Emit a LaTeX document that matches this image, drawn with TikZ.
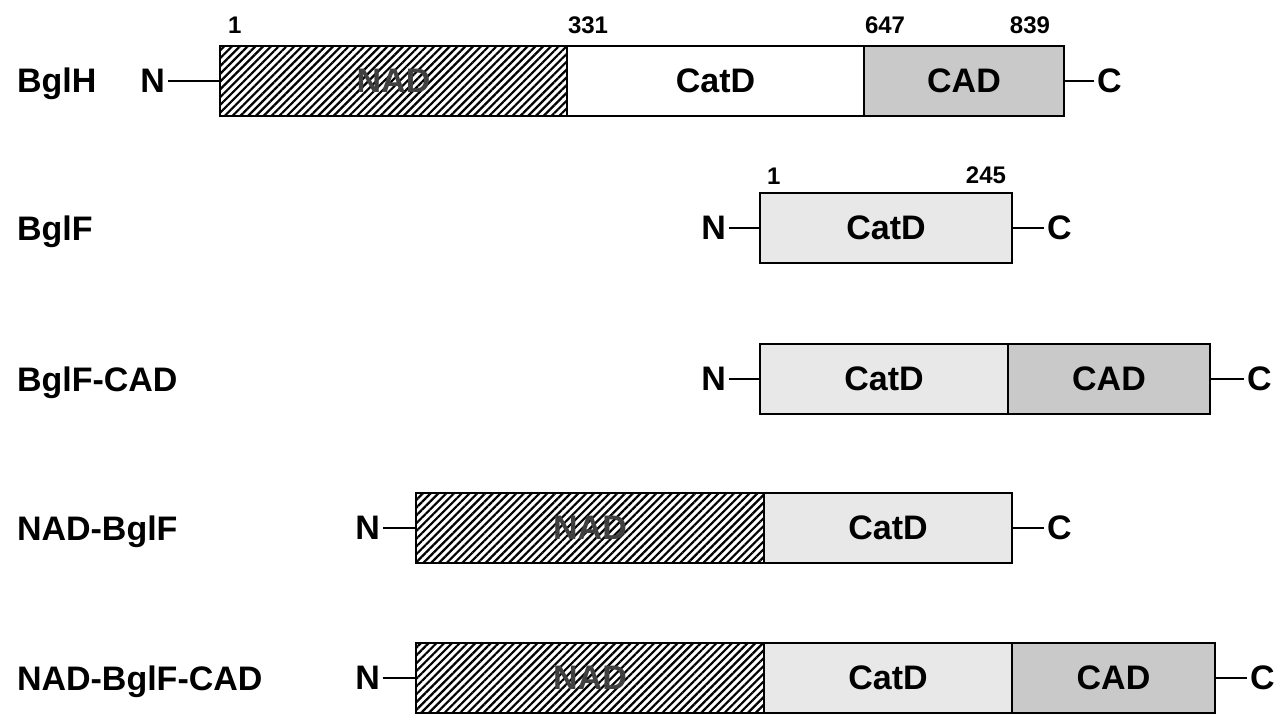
\documentclass[tikz,border=0pt]{standalone}
\usepackage{fontspec}
\setmainfont{Liberation Sans}
\usetikzlibrary{positioning,patterns.meta}

\begin{document}
\begin{tikzpicture}[x=1pt,y=-1pt]
        \tikzstyle{every node}=[font=\fontsize{34}{40}\selectfont\bfseries, inner sep=0pt, outer sep=0pt]
        \tikzstyle{dombox}=[draw, line width=1.4pt, minimum height=70pt]
        \tikzstyle{nad}=[dombox, pattern={Lines[angle=45, distance=5.5pt, line width=2.2pt]}, text=black!75]
        \tikzstyle{catd}=[dombox, fill=black!9]
        \tikzstyle{cad}=[dombox, fill=black!21]
        \tikzstyle{term}=[inner sep=3pt]
        \tikzstyle{num}=[font=\fontsize{24}{28}\selectfont\bfseries]
        \tikzstyle{link}=[line width=2pt]

        \useasboundingbox (0,0) rectangle (1281,714);

        % BglH
        \node   (r1)    [anchor=base west] at (17,93) {BglH};
        \node   (nad1)  [nad, minimum width=347pt, anchor=west] at (220,81) {NAD};
        \node   (cat1)  [dombox, minimum width=297pt, right=0pt of nad1] {CatD};
        \node   (cad1)  [cad, minimum width=200pt, right=0pt of cat1] {CAD};
        \node   (n1)    [term, anchor=east] at (168,81) {N};
        \node   (c1)    [term, anchor=west] at (1094,81) {C};
        \node   (p1a)   [num, above right=12pt and 8pt of nad1.north west] {1};
        \node   (p1b)   [num, above right=12pt and 1pt of nad1.north east] {331};
        \node   (p1c)   [num, above right=12pt and 1pt of cat1.north east] {647};
        \node   (p1d)   [num, above left=12pt and 14pt of cad1.north east] {839};

        % BglF
        \node   (r2)    [anchor=base west] at (17,240) {BglF};
        \node   (cat2)  [catd, minimum width=252pt, anchor=west] at (760,228) {CatD};
        \node   (n2)    [term, anchor=east] at (729,228) {N};
        \node   (c2)    [term, anchor=west] at (1044,228) {C};
        \node   (p2a)   [num, above right=9pt and 7pt of cat2.north west] {1};
        \node   (p2b)   [num, above left=9pt and 6pt of cat2.north east] {245};

        % BglF-CAD
        \node   (r3)    [anchor=base west] at (17,391) {BglF-CAD};
        \node   (cat3)  [catd, minimum width=248pt, anchor=west] at (760,379) {CatD};
        \node   (cad3)  [cad, minimum width=202pt, right=0pt of cat3] {CAD};
        \node   (n3)    [term, anchor=east] at (729,379) {N};
        \node   (c3)    [term, anchor=west] at (1244,379) {C};

        % NAD-BglF
        \node   (r4)    [anchor=base west] at (17,540) {NAD-BglF};
        \node   (nad4)  [nad, minimum width=348pt, anchor=west] at (416,528) {NAD};
        \node   (cat4)  [catd, minimum width=248pt, right=0pt of nad4] {CatD};
        \node   (n4)    [term, anchor=east] at (383,528) {N};
        \node   (c4)    [term, anchor=west] at (1044,528) {C};

        % NAD-BglF-CAD
        \node   (r5)    [anchor=base west] at (17,690) {NAD-BglF-CAD};
        \node   (nad5)  [nad, minimum width=348pt, anchor=west] at (416,678) {NAD};
        \node   (cat5)  [catd, minimum width=248pt, right=0pt of nad5] {CatD};
        \node   (cad5)  [cad, minimum width=203pt, right=0pt of cat5] {CAD};
        \node   (n5)    [term, anchor=east] at (383,678) {N};
        \node   (c5)    [term, anchor=west] at (1247,678) {C};

        \path[link]     (n1) edge (nad1)  (cad1) edge (c1)
                        (n2) edge (cat2)  (cat2) edge (c2)
                        (n3) edge (cat3)  (cad3) edge (c3)
                        (n4) edge (nad4)  (cat4) edge (c4)
                        (n5) edge (nad5)  (cad5) edge (c5);

\end{tikzpicture}
\end{document}
